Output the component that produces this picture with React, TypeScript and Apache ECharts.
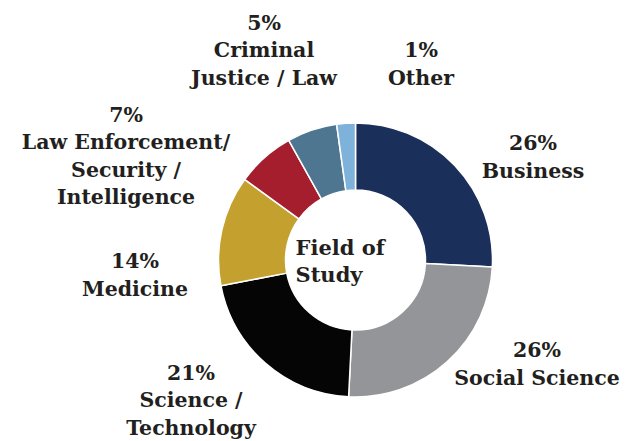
import React, { useEffect, useRef } from "react";
import * as echarts from "echarts";

const categories = [
  "Business",
  "Social Science",
  "Science /\nTechnology",
  "Medicine",
  "Law Enforcement/\nSecurity /\nIntelligence",
  "Criminal\nJustice / Law",
  "Other",
];
const sliceValues = [25.8, 25.0, 21.2, 13.0, 6.9, 5.9, 2.2];
const percentLabels = ["26%", "26%", "21%", "14%", "7%", "5%", "1%"];
const colors = ["#1b2f5b", "#939598", "#050505", "#c4a12f", "#a51e2e", "#4e7690", "#7fb2da"];
const centerTitle = "Field of\nStudy";

// label anchor positions (layout only)
const labelPos: [number, number][] = [
  [533, 157],
  [537, 364],
  [191, 400],
  [135, 275],
  [126, 156],
  [264, 50],
  [421, 64],
];

const FONT = "'DejaVu Serif', serif";
const TEXT = "#231f20";

export default function App() {
  const ref = useRef<HTMLDivElement>(null);
  useEffect(() => {
    if (!ref.current) return;
    const chart = echarts.init(ref.current, null, { renderer: "svg" });
    chart.setOption({
      animation: false,
      backgroundColor: "#ffffff",
      graphic: [
        {
          type: "text",
          left: 355.5 - 60,
          top: 260 - 26,
          style: {
            text: centerTitle,
            width: 120,
            fill: TEXT,
            font: `bold 21px ${FONT}`,
            lineHeight: 27,
            align: "center",
            x: 60,
          },
        },
      ],
      series: [
        {
          type: "pie",
          center: [355.5, 260],
          radius: [70, 137],
          startAngle: 90,
          clockwise: true,
          avoidLabelOverlap: false,
          itemStyle: { borderColor: "#ffffff", borderWidth: 1.5 },
          label: {
            show: true,
            position: "outside",
            color: TEXT,
            fontFamily: FONT,
            fontWeight: "bold",
            fontSize: 20.5,
            lineHeight: 27.5,
            align: "center",
            formatter: (p: any) => `${percentLabels[p.dataIndex]}\n${categories[p.dataIndex]}`,
          },
          labelLine: { show: false },
          labelLayout: (p: any) => ({
            x: labelPos[p.dataIndex][0],
            y: labelPos[p.dataIndex][1],
            align: "center",
            verticalAlign: "middle",
          }),
          emphasis: { disabled: true },
          data: categories.map((c, i) => ({
            name: c,
            value: sliceValues[i],
            itemStyle: { color: colors[i] },
          })),
        },
      ],
    });
    return () => chart.dispose();
  }, []);
  return (
    <div
      ref={ref}
      style={{ position: "fixed", left: 0, top: 0, width: 626, height: 441 }}
    />
  );
}
